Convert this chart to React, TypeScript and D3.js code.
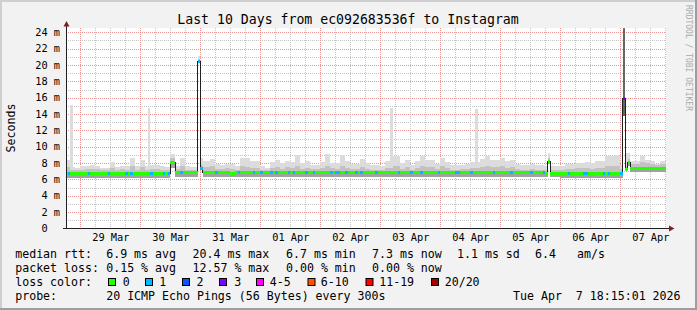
import React from 'react';
import * as d3 from 'd3';

// ---------- data ----------
const seriesStart = '2026-03-28T18:00:00Z'; // first 2-hour bin
const viewEnd = '2026-04-07T18:15:01Z';
const titleText = 'Last 10 Days from ec092683536f to Instagram';

// 2-hour bins (ms)
const binMedian = [
  6.7, 6.7, 6.7,
  6.7, 6.7, 6.7, 6.7, 6.7, 6.7, 6.7, 6.7, 6.7, 6.7, 6.7, 6.7,
  6.7, 6.7, 6.7, 6.7, 6.7, 6.7, 8.1, 6.8, 6.8, 6.8, 6.8, 6.8,
  6.8, 6.8, 6.8, 6.8, 6.8, 6.8, 6.7, 6.8, 6.8, 6.8, 6.8, 6.8,
  6.8, 6.8, 6.8, 6.8, 6.8, 6.8, 6.8, 6.8, 6.8, 6.8, 6.8, 6.8,
  6.8, 6.8, 6.8, 6.9, 6.8, 6.8, 6.8, 6.8, 6.8, 6.8, 6.8, 6.8,
  6.8, 6.8, 6.8, 6.8, 6.8, 6.8, 6.8, 6.8, 6.8, 6.8, 6.8, 6.8,
  6.8, 6.8, 6.8, 6.8, 6.8, 6.8, 6.8, 6.8, 6.8, 6.8, 6.8, 6.8,
  6.8, 6.8, 6.8, 6.8, 6.8, 6.8, 6.8, 6.8, 6.8, 6.7, 6.7, 6.7,
  6.7, 6.7, 6.7, 6.7, 6.7, 6.7, 6.7, 6.7, 6.7, 6.7, 6.7, 6.7,
  6.7, 7.3, 7.3, 7.3, 7.3, 7.3, 7.3, 7.3, 7.3, 7.3,
];
const binFloor = [
  6.2, 6.2, 6.2,
  6.2, 6.2, 6.2, 6.2, 6.2, 6.2, 6.2, 6.2, 6.2, 6.2, 6.2, 6.2,
  6.2, 6.2, 6.2, 6.2, 6.2, 6.2, 7.4, 6.3, 6.3, 6.3, 6.3, 6.3,
  6.3, 6.3, 6.3, 6.3, 6.3, 6.3, 6.3, 6.3, 6.3, 6.3, 6.3, 6.3,
  6.3, 6.3, 6.3, 6.3, 6.3, 6.3, 6.3, 6.3, 6.3, 6.3, 6.3, 6.3,
  6.3, 6.3, 6.3, 6.3, 6.3, 6.3, 6.3, 6.3, 6.3, 6.3, 6.3, 6.3,
  6.3, 6.3, 6.3, 6.3, 6.3, 6.3, 6.3, 6.3, 6.3, 6.3, 6.3, 6.3,
  6.3, 6.3, 6.3, 6.3, 6.3, 6.3, 6.3, 6.3, 6.3, 6.3, 6.3, 6.3,
  6.3, 6.3, 6.3, 6.3, 6.3, 6.3, 6.3, 6.3, 6.3, 6.3, 6.3, 6.3,
  6.2, 6.2, 6.2, 6.2, 6.2, 6.2, 6.2, 6.2, 6.2, 6.2, 6.2, 6.2,
  6.2, 6.9, 6.9, 6.9, 6.9, 6.9, 6.9, 6.9, 6.9, 6.9,
];
const binMid = [
  7.5, 7.2, 7.1,
  7.2, 7.3, 7.3, 7.3, 7.1, 7.1, 7.4, 7.2, 7.3, 7.2, 7.6, 7.2,
  7.5, 7.2, 7.3, 7.3, 7.2, 7.1, 8.6, 7.3, 7.6, 7.2, 7.2, 7.2,
  7.5, 7.5, 7.6, 7.3, 7.3, 7.4, 7.3, 7.2, 7.6, 7.5, 7.4, 7.4,
  7.2, 7.1, 7.4, 7.5, 7.3, 7.5, 7.4, 7.7, 7.3, 7.4, 7.3, 7.3,
  7.4, 7.7, 7.4, 7.3, 7.6, 7.4, 7.3, 7.3, 7.5, 7.3, 7.2, 7.2,
  7.2, 7.4, 7.6, 7.6, 7.3, 7.5, 7.2, 7.4, 7.6, 7.5, 7.5, 7.3,
  7.6, 7.4, 7.2, 7.2, 7.3, 7.3, 7.4, 7.4, 7.5, 7.7, 7.5, 7.5,
  7.6, 7.4, 7.5, 7.3, 7.2, 7.2, 7.3, 7.2, 7.2, 7.2, 7.1, 7.1,
  7.2, 7.3, 7.3, 7.4, 7.4, 7.4, 7.3, 7.4, 7.4, 7.6, 7.6, 7.7,
  7.3, 8.5, 7.9, 7.9, 8.1, 8.0, 7.9, 7.8, 7.9, 7.9,
];
const binTop = [
  8.4, 7.5, 7.4,
  7.6, 7.7, 7.8, 7.7, 7.4, 7.4, 8.1, 7.5, 7.7, 7.6, 8.6, 7.6,
  8.4, 7.6, 7.8, 7.8, 7.6, 7.5, 9.1, 7.7, 8.6, 7.6, 7.5, 7.5,
  8.3, 8.3, 8.5, 7.9, 7.8, 7.9, 7.9, 7.6, 8.6, 8.6, 8.2, 8.2,
  7.6, 7.4, 8.1, 8.4, 8.0, 8.3, 8.1, 9.0, 8.0, 8.2, 7.8, 7.8,
  8.1, 9.1, 8.0, 8.0, 9.0, 8.3, 7.9, 7.9, 8.5, 8.0, 7.8, 7.8,
  7.6, 8.2, 8.9, 8.9, 8.0, 8.4, 7.8, 8.2, 8.9, 8.4, 8.4, 7.9,
  8.6, 8.1, 7.8, 7.8, 7.8, 7.9, 8.1, 8.1, 8.5, 8.9, 8.4, 8.4,
  8.6, 8.2, 8.4, 7.9, 7.8, 7.8, 7.9, 7.8, 7.8, 7.7, 7.6, 7.6,
  7.7, 7.9, 7.9, 8.0, 8.0, 8.1, 8.0, 8.2, 8.2, 8.9, 8.9, 9.0,
  8.0, 9.2, 8.2, 8.2, 8.9, 8.4, 8.2, 7.9, 8.3, 8.3,
];
// hours (since seriesStart) with 1 of 20 pings lost
const lossOneHours = [1, 9, 17, 24, 26, 34, 39, 41, 46, 60, 69, 75, 78, 82, 84, 89, 91, 96, 99, 106, 108, 109,
  112, 116, 118, 124, 133, 138, 142, 149, 156, 157, 162, 171, 178, 186, 191, 201, 207, 208, 215, 217];

// single-hour events
const eventTimes = ['2026-03-28T20:00:00Z', '2026-03-30T03:00:00Z', '2026-03-30T23:00:00Z', '2026-03-31T00:00:00Z',
  '2026-04-03T04:00:00Z', '2026-04-04T14:00:00Z', '2026-04-05T19:00:00Z', '2026-04-07T00:00:00Z',
  '2026-04-07T01:00:00Z', '2026-04-07T02:00:00Z', '2026-04-07T03:00:00Z'];
const eventMedian = [6.7, 6.7, 20.4, 7.4, 6.8, 6.8, 8.2, 6.7, 15.9, 7.2, 8.1];
const eventLoss = [0, 0, 1, 1, 0, 0, 0, 1, 3, 0, 0];
const eventFloor = [6.2, 6.2, 20.2, 7.3, 6.3, 6.3, 7.9, 6.2, 13.7, 7.0, 7.6];
const eventMid = [7.2, 7.2, 20.7, 7.8, 7.4, 7.4, 8.6, 7.3, 30, 7.6, 8.5];
const eventTop = [15.1, 14.7, 21.1, 8.6, 14.8, 14.6, 9.2, 7.8, 30, 9.2, 9.2];
const eventCore = [0, 0, 0, 0, 0, 0, 0, 0, 30, 0, 0];

const yTickValues = [0, 2, 4, 6, 8, 10, 12, 14, 16, 18, 20, 22, 24];
const dayLabels = ['29 Mar', '30 Mar', '31 Mar', '01 Apr', '02 Apr', '03 Apr', '04 Apr', '05 Apr', '06 Apr', '07 Apr'];

const lossColors = ['#26ff00', '#00b8ff', '#0059ff', '#7e00ff', '#ff00ff', '#ff5500', '#ff0000', '#a10000'];
const lossLabels = ['0', '1', '2', '3', '4-5', '6-10', '11-19', '20/20'];

const rttRow = ['median rtt:', '6.9 ms avg', '20.4 ms max', '6.7 ms min', '7.3 ms now', '1.1 ms sd', '6.4', 'am/s'];
const lossRow = ['packet loss:', '0.15 % avg', '12.57 % max', '0.00 % min', '0.00 % now'];
const probeRow = ['probe:', '20 ICMP Echo Pings (56 Bytes) every 300s', 'Tue Apr  7 18:15:01 2026'];
const colorRowLabel = 'loss color:';
const watermark = 'RRDTOOL / TOBI OETIKER';

// ---------- layout ----------
const W = 697, H = 310;
const PL = 66, PR = 666, PT = 28.2, PB = 228.5;
const FONT = "'DejaVu Sans Mono', monospace";
const rowX = [15.2, 106.2, 192.5, 286, 372, 457, 535, 577];
const boxX = [108.5, 145.5, 182.5, 219.5, 256.5, 308, 366, 431.5];
const boxLabelX = [122.7, 159.3, 196.5, 234.2, 269.7, 320.7, 379.2, 444.7];

function lossIndex(l: number) {
  if (l <= 3) return l;
  if (l <= 5) return 4;
  if (l <= 10) return 5;
  if (l <= 19) return 6;
  return 7;
}

type Hour = { t: Date; median: number; floor: number; mid: number; top: number; core: number; loss: number };

export default function App() {
  const t0 = new Date(seriesStart);
  const tEnd = new Date(viewEnd);
  const tStart = d3.utcDay.offset(tEnd, -10);
  const x = d3.scaleUtc().domain([tStart, tEnd]).range([PL, PR]);
  const y = d3.scaleLinear().domain([0, 24.5]).range([PB, PT]);

  const hours: Hour[] = [];
  for (let h = 0; h < binMedian.length * 2; h++) {
    const b = Math.floor(h / 2);
    hours.push({
      t: d3.utcHour.offset(t0, h), median: binMedian[b], floor: binFloor[b], mid: binMid[b], top: binTop[b],
      core: binFloor[b], loss: lossOneHours.includes(h) ? 1 : 0,
    });
  }
  eventTimes.forEach((s, i) => {
    const h = Math.round((+new Date(s) - +t0) / 3600000);
    hours[h] = {
      t: hours[h].t, median: eventMedian[i], floor: eventFloor[i], mid: eventMid[i], top: eventTop[i],
      core: eventCore[i] || eventFloor[i], loss: eventLoss[i],
    };
  });
  const last = hours[hours.length - 1];
  const pts = [...hours, { ...last, t: d3.utcHour.offset(last.t, 1) }];
  const mkArea = (f: (d: Hour) => number) =>
    d3.area<Hour>().x(d => x(d.t)).y0(d => y(d.floor)).y1(d => y(f(d))).curve(d3.curveStepAfter)(pts) || '';
  const medLine = d3.line<Hour>().x(d => x(d.t)).y(d => y(d.median)).curve(d3.curveStepAfter)(pts) || '';

  const minorV = d3.utcHour.every(6)!.range(tStart, tEnd).filter(d => d.getUTCHours() !== 0);
  const majorV = d3.utcDay.range(d3.utcDay.ceil(tStart), tEnd);
  const minorH = d3.range(1, 25, 2);
  const majorH = yTickValues.filter(v => v > 0);
  const px = (v: number) => Math.round(v) + 0.5;

  return (
    <svg width={W} height={H} style={{ position: 'absolute', left: 0, top: 0, display: 'block' }}
      fontFamily={FONT}>
      <defs>
        <clipPath id="plot"><rect x={PL} y={PT} width={PR - PL} height={PB - PT} /></clipPath>
      </defs>
      <rect x={0} y={0} width={W} height={H} fill="#f2f2f2" />
      <rect x={0} y={0} width={W} height={2} fill="#cfcfcf" />
      <rect x={0} y={0} width={2} height={H} fill="#cfcfcf" />
      <rect x={0} y={H - 2} width={W} height={2} fill="#9e9e9e" />
      <rect x={W - 2} y={0} width={2} height={H} fill="#9e9e9e" />
      <rect x={PL} y={PT} width={PR - PL} height={PB - PT} fill="#ffffff" />

      {/* grid */}
      <g strokeDasharray="1,1" strokeWidth={1} shapeRendering="crispEdges">
        {minorH.map(v => <line key={'mh' + v} x1={PL} x2={PR} y1={px(y(v))} y2={px(y(v))} stroke="#c4c4c4" />)}
        {minorV.map(d => <line key={'mv' + +d} x1={px(x(d))} x2={px(x(d))} y1={PT} y2={PB} stroke="#c4c4c4" />)}
        {majorH.map(v => <line key={'Mh' + v} x1={PL} x2={PR} y1={px(y(v))} y2={px(y(v))} stroke="#eb9595" />)}
        {majorV.map(d => <line key={'Mv' + +d} x1={px(x(d))} x2={px(x(d))} y1={PT} y2={PB} stroke="#eb9595" />)}
      </g>

      {/* smoke + median */}
      <g clipPath="url(#plot)">
        <path d={mkArea(d => d.top)} fill="#dcdcdc" shapeRendering="crispEdges" />
        <path d={mkArea(d => d.mid)} fill="#c2c2c2" shapeRendering="crispEdges" />
        <path d={mkArea(d => d.median)} fill="#a2a2a2" shapeRendering="crispEdges" />
        <path d={mkArea(d => d.core)} fill="#666666" shapeRendering="crispEdges" />
        <path d={medLine} fill="none" stroke="#202020" strokeWidth={1} shapeRendering="crispEdges" />
        {hours.map((d, i) => {
          const x0 = x(d.t), x1 = x(pts[i + 1].t);
          return (
            <rect key={'m' + i} x={x0} width={x1 - x0} y={Math.round(y(d.median) - 1.5)} height={3}
              fill={lossColors[lossIndex(d.loss)]} shapeRendering="crispEdges" />
          );
        })}
      </g>

      {/* axes */}
      <line x1={PL + 0.5} x2={PL + 0.5} y1={PB} y2={25} stroke="#1f1f1f" strokeWidth={1} shapeRendering="crispEdges" />
      <line x1={63} x2={670} y1={228.5} y2={228.5} stroke="#1f1f1f" strokeWidth={1} shapeRendering="crispEdges" />
      <path d={`M ${PL + 0.5} 21 L ${PL + 3.5} 26.5 L ${PL - 2.5} 26.5 Z`} fill="#801f1f" />
      <path d={`M 674.5 228.5 L 669 225.5 L 669 231.5 Z`} fill="#801f1f" />

      {/* y tick labels */}
      <g fontSize={10.3} fill="#000">
        {yTickValues.map(v => (
          <text key={'yl' + v} x={v === 0 ? 47.6 : 60} y={y(v) + 3.7} textAnchor="end">
            {v === 0 ? '0' : `${v} m`}
          </text>
        ))}
        {majorV.map((d, i) => (
          <text key={'xl' + i} x={x(d3.utcHour.offset(d, 12)) + 0.5} y={241} textAnchor="middle">{dayLabels[i]}</text>
        ))}
      </g>

      <text x={348} y={24} fontSize={13.2} textAnchor="middle" fill="#000">{titleText}</text>
      <text transform="translate(15,128) rotate(-90)" fontSize={11.6} textAnchor="middle" fill="#000">Seconds</text>
      <text transform="translate(685.5,5) rotate(90)" fontSize={8} fill="#aaaaaa">{watermark}</text>

      {/* legend */}
      <g fontSize={11.6} fill="#000" style={{ whiteSpace: 'pre' }}>
        {rttRow.map((s, i) => <text key={'r' + i} x={rowX[i]} y={258} xmlSpace="preserve">{s}</text>)}
        {lossRow.map((s, i) => <text key={'l' + i} x={rowX[i]} y={272} xmlSpace="preserve">{s}</text>)}
        <text x={rowX[0]} y={286}>{colorRowLabel}</text>
        {lossLabels.map((s, i) => (
          <g key={'c' + i}>
            <rect x={boxX[i]} y={278.5} width={7} height={7} fill={lossColors[i]} stroke="#000" strokeWidth={1} />
            <text x={boxLabelX[i]} y={286}>{s}</text>
          </g>
        ))}
        <text x={rowX[0]} y={300} xmlSpace="preserve">{probeRow[0]}</text>
        <text x={rowX[1]} y={300} xmlSpace="preserve">{probeRow[1]}</text>
        <text x={513} y={300} xmlSpace="preserve">{probeRow[2]}</text>
      </g>
    </svg>
  );
}
